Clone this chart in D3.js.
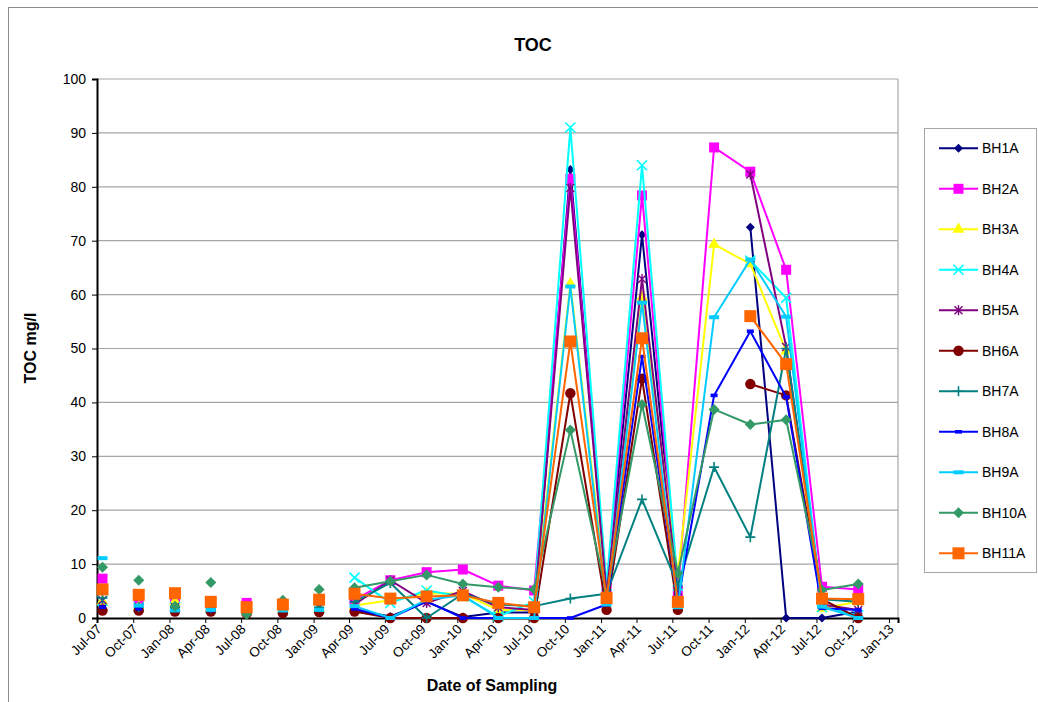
<!DOCTYPE html>
<html><head><meta charset="utf-8">
<script src="https://cdn.jsdelivr.net/npm/d3@7"></script>
<style>body{margin:0;background:#fff} svg{display:block} text{font-family:"Liberation Sans",Arial,sans-serif;fill:#000}</style>
</head><body><svg id="c" width="1038" height="702"></svg>
<script>
// ---- data ----
const sampleDates = ["2007-07-15","2007-10-15","2008-01-15","2008-04-15","2008-07-15","2008-10-15","2009-01-15",
  "2009-04-15","2009-07-15","2009-10-15","2010-01-15","2010-04-15","2010-07-15","2010-10-15","2011-01-15",
  "2011-04-15","2011-07-15","2011-10-15","2012-01-15","2012-04-15","2012-07-15","2012-10-15"];
// whether a line joins this sample to the previous one (blank rows in the early record break the line)
const lineJoined = [false,false,false,false,false,false,false,false,true,true,true,true,true,true,true,true,true,true,true,true,true,true];
const seriesNames = ["BH1A","BH2A","BH3A","BH4A","BH5A","BH6A","BH7A","BH8A","BH9A","BH10A","BH11A"];
const BH1A  = [2.4,1.8,1.8,1.5,1.5,1.6,1.6,1.5,0.3,3.0,0.2,1.0,1.0,83.2,5.0,71.1,5.0,null,72.5,0,0,1.2];
const BH2A  = [7.3,3.2,3.5,2.8,2.8,2.5,3.3,3.4,7.0,8.5,9.0,6.0,5.1,81.5,5.5,78.4,5.0,87.3,82.8,64.6,5.8,5.3];
const BH3A  = [3.1,2.0,3.1,1.8,1.8,1.8,1.8,2.3,3.3,4.6,4.5,1.5,1.5,62.0,4.0,59.5,8.0,69.3,65.7,49.5,1.8,3.0];
const BH4A  = [3.2,2.0,2.0,1.8,1.8,1.8,1.8,7.5,2.8,5.1,4.0,0.3,3.0,91.0,6.0,84.0,6.0,null,66.3,59.4,2.0,0.5];
const BH5A  = [3.3,2.0,2.0,1.8,1.8,1.8,2.0,2.5,7.0,2.8,5.0,2.0,1.5,79.8,4.5,62.9,5.0,null,82.3,50.3,2.5,1.5];
const BH6A  = [1.4,1.4,1.2,1.2,0.8,0.9,1.1,1.2,0,0,0,0,0,41.7,1.5,44.4,1.5,null,43.4,41.3,3.5,0];
const BH7A  = [3.7,2.0,2.0,1.8,1.5,2.0,2.0,3.0,6.5,0,4.5,2.5,2.2,3.6,4.5,22.0,6.0,28.0,15.0,50.0,3.5,3.0];
const BH8A  = [2.0,1.7,1.8,1.4,1.4,1.5,1.5,1.7,0,3.1,0,0,0,0,2.5,48.5,3.0,41.3,53.2,41.0,1.8,1.5];
const BH9A  = [11.1,2.3,1.4,1.5,1.5,1.4,1.5,2.2,0,3.4,4.2,0,0,61.5,2.5,58.5,2.0,55.8,66.5,55.9,2.1,0];
const BH10A = [9.4,7.0,2.2,6.6,0.7,3.3,5.3,5.6,6.8,8.0,6.3,5.7,5.3,34.9,4.5,39.6,8.3,38.7,35.9,36.8,5.2,6.3];
const BH11A = [5.3,4.3,4.6,3.0,2.0,2.5,3.4,4.5,3.6,4.0,4.2,2.8,2.0,51.3,3.7,51.9,3.0,null,56.0,47.1,3.6,3.5];
const seriesValues = [BH1A,BH2A,BH3A,BH4A,BH5A,BH6A,BH7A,BH8A,BH9A,BH10A,BH11A];
const yTicks = [0,10,20,30,40,50,60,70,80,90,100];
const axisStart = "2007-07-01", axisEnd = "2013-01-24";

// ---- styles ----
const colors  = ["#000080","#FF00FF","#FFFF00","#00FFFF","#800080","#800000","#008080","#0000FF","#00CCFF","#339966","#FF6600"];
const markers = ["diamondS","square","triangle","x","star","circle","plus","dashS","dashL","diamondL","squareL"];

const svg = d3.select("#c");
const W = 1038, H = 702;
const L = 97, R = 898, T = 79, B = 618;
const parse = d3.timeParse("%Y-%m-%d");
const dates = sampleDates.map(parse);
const x = d3.scaleTime().domain([parse(axisStart), parse(axisEnd)]).range([L, R]);
const y = d3.scaleLinear().domain([0, 100]).range([B, T]);

// chart area border
svg.append("rect").attr("x",8.5).attr("y",7.5).attr("width",W+10).attr("height",H+10)
  .attr("fill","#fff").attr("stroke","#8c8c8c").attr("stroke-width",1);

// gridlines
svg.append("g").selectAll("line").data(yTicks.filter(d=>d>0)).join("line")
  .attr("x1",L).attr("x2",R).attr("y1",d=>y(d)).attr("y2",d=>y(d))
  .attr("stroke","#a6a6a6").attr("stroke-width",1.2);
svg.append("line").attr("x1",R).attr("x2",R).attr("y1",T).attr("y2",B).attr("stroke","#a6a6a6").attr("stroke-width",1.2);

// axes
const yAxis = d3.axisLeft(y).tickValues(yTicks).tickSize(5).tickPadding(6);
const gy = svg.append("g").attr("transform",`translate(${L},0)`).call(yAxis);
gy.select(".domain").attr("stroke","#000").attr("stroke-width",2);
gy.selectAll(".tick line").attr("stroke","#000");
gy.selectAll(".tick text").attr("font-size",14).attr("font-family","Liberation Sans, Arial, sans-serif");

const xAxis = d3.axisBottom(x).ticks(d3.timeMonth.every(3)).tickFormat(d3.timeFormat("%b-%y")).tickSize(5);
const gx = svg.append("g").attr("transform",`translate(0,${B})`).call(xAxis);
gx.select(".domain").attr("stroke","#000").attr("stroke-width",2);
gx.selectAll(".tick line").attr("stroke","#000");
gx.selectAll(".tick text").attr("font-size",13.5).attr("font-family","Liberation Sans, Arial, sans-serif")
  .attr("text-anchor","end").attr("dy",null).attr("y",0)
  .attr("transform","translate(5,12) rotate(-45)");

// markers
function drawMarker(g, kind, color){
  const diamond = r => `M0,${-r}L${r},0L0,${r}L${-r},0Z`;
  if (kind==="square") g.append("rect").attr("x",-5).attr("y",-5).attr("width",10).attr("height",10).attr("fill",color);
  else if (kind==="squareL") g.append("rect").attr("x",-6).attr("y",-6).attr("width",12).attr("height",12).attr("fill",color);
  else if (kind==="diamondS") g.append("path").attr("d",diamond(4.5)).attr("fill",color);
  else if (kind==="diamondL") g.append("path").attr("d",diamond(5.5)).attr("fill",color);
  else if (kind==="triangle") g.append("path").attr("d",d3.symbol().type(d3.symbolTriangle).size(60)()).attr("fill",color);
  else if (kind==="circle") g.append("circle").attr("r",5.2).attr("fill",color);
  else if (kind==="x") g.append("path").attr("d","M-5,-5L5,5M-5,5L5,-5").attr("stroke",color).attr("stroke-width",1.6).attr("fill","none");
  else if (kind==="star") g.append("path").attr("d","M-4,-4L4,4M-4,4L4,-4M0,-5L0,5").attr("stroke",color).attr("stroke-width",1.4).attr("fill","none");
  else if (kind==="plus") g.append("path").attr("d","M-5,0L5,0M0,-5L0,5").attr("stroke",color).attr("stroke-width",1.6).attr("fill","none");
  else if (kind==="dashS") g.append("rect").attr("x",-3.5).attr("y",-1.8).attr("width",7).attr("height",3.6).attr("fill",color);
  else if (kind==="dashL") g.append("rect").attr("x",-5).attr("y",-2).attr("width",10).attr("height",4).attr("fill",color);
}

// series
const plot = svg.append("g");
seriesValues.forEach((vals, si) => {
  const color = colors[si];
  const pts = vals.map((v,i)=>({d:dates[i], v, i}));
  const segs = []; let cur = [];
  pts.forEach(p => {
    if (p.v === null) { if (cur.length) segs.push(cur); cur = []; return; }
    if (!lineJoined[p.i] && cur.length) { segs.push(cur); cur = []; }
    cur.push(p);
  });
  if (cur.length) segs.push(cur);
  const line = d3.line().x(p=>x(p.d)).y(p=>y(p.v));
  segs.filter(s=>s.length>1).forEach(s => {
    plot.append("path").attr("d", line(s)).attr("fill","none").attr("stroke",color).attr("stroke-width",2).attr("stroke-linejoin","round");
  });
  pts.filter(p=>p.v!==null).forEach(p => {
    const g = plot.append("g").attr("transform",`translate(${x(p.d)},${y(p.v)})`);
    drawMarker(g, markers[si], color);
  });
});

// titles
svg.append("text").attr("x",533).attr("y",51).attr("text-anchor","middle").attr("font-size",18).attr("font-weight","bold").text("TOC");
svg.append("text").attr("transform","translate(36,348) rotate(-90)").attr("text-anchor","middle").attr("font-size",16).attr("font-weight","bold").text("TOC mg/l");
svg.append("text").attr("x",492).attr("y",691).attr("text-anchor","middle").attr("font-size",16).attr("font-weight","bold").text("Date of Sampling");

// legend
const lg = svg.append("g");
lg.append("rect").attr("x",924.5).attr("y",128.5).attr("width",112).attr("height",444).attr("fill","#fff").attr("stroke","#a6a6a6");
seriesNames.forEach((n, i) => {
  const yy = 148.3 + i*40.5;
  lg.append("line").attr("x1",939).attr("x2",978).attr("y1",yy).attr("y2",yy).attr("stroke",colors[i]).attr("stroke-width",2);
  const g = lg.append("g").attr("transform",`translate(958.5,${yy})`);
  drawMarker(g, markers[i], colors[i]);
  lg.append("text").attr("x",982).attr("y",yy+5).attr("font-size",14).text(n);
});
</script></body></html>
